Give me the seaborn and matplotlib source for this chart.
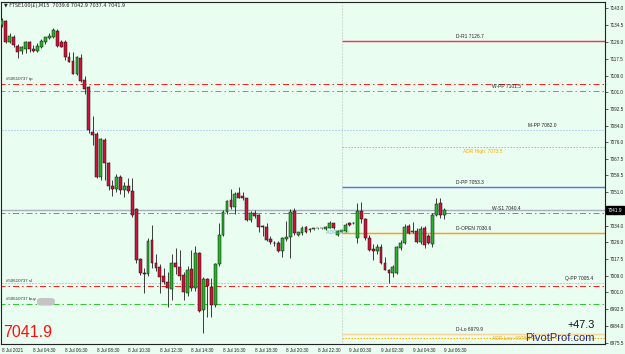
import numpy as np
import pandas as pd
import matplotlib
matplotlib.use("Agg")
import matplotlib.pyplot as plt
import matplotlib.transforms as mtransforms
from matplotlib.patches import FancyBboxPatch
import seaborn as sns

# ---------------- data ----------------
opens = [7134.5, 7136.5, 7126.2, 7128.7, 7124.2, 7121.5, 7122.5, 7125.8, 7122.5, 7121.7,
         7123.7, 7125.8, 7128.0, 7128.3, 7131.7, 7126.2, 7126.2, 7118.7, 7116.7, 7110.0,
         7117.8, 7107.0, 7103.3, 7081.2, 7080.0, 7058.7, 7077.0, 7065.5, 7054.0, 7052.5,
         7058.5, 7052.0, 7054.0, 7051.7, 7042.3, 7017.3, 7010.7, 7010.0, 7027.0, 7015.5,
         7013.7, 7009.0, 7006.2, 7002.3, 7015.6, 7013.3, 7009.5, 7000.3, 7012.3, 7002.8,
         7020.3, 6992.0, 7007.3, 7003.7, 6994.5, 7015.0, 7029.5, 7041.0, 7047.0, 7043.7,
         7050.3, 7049.0, 7047.8, 7037.0, 7040.6, 7039.5, 7033.6, 7033.7, 7027.3, 7025.5,
         7025.7, 7021.7, 7027.3, 7028.3, 7041.7, 7029.5, 7030.3, 7033.7, 7031.8, 7032.4,
         7032.8, 7032.8, 7032.6, 7033.2, 7035.3, 7029.5, 7031.2, 7031.7, 7035.7, 7035.3,
         7027.8, 7041.7, 7037.3, 7027.8, 7022.3, 7021.5, 7023.7, 7015.6, 7012.0, 7010.7,
         7010.7, 7022.8, 7025.3, 7034.0, 7031.0, 7031.7, 7026.2, 7032.8, 7029.0, 7025.0,
         7039.5, 7045.3, 7039.6]
highs = [7138.0, 7137.0, 7130.3, 7129.5, 7125.0, 7124.0, 7126.7, 7126.5, 7124.5, 7125.3,
         7127.7, 7128.7, 7130.7, 7133.0, 7132.3, 7126.8, 7126.8, 7121.0, 7121.0, 7119.0,
         7120.0, 7109.0, 7104.0, 7089.0, 7081.2, 7078.0, 7078.0, 7066.0, 7057.0, 7060.0,
         7059.5, 7056.0, 7058.0, 7057.8, 7042.8, 7018.0, 7013.0, 7027.8, 7034.5, 7020.0,
         7015.0, 7013.0, 7011.0, 7020.0, 7022.8, 7022.0, 7011.0, 7014.0, 7022.0, 7024.0,
         7021.0, 7008.5, 7008.0, 7008.0, 7015.5, 7035.3, 7042.0, 7047.2, 7052.3, 7051.0,
         7053.6, 7051.0, 7048.0, 7041.5, 7042.0, 7040.0, 7034.3, 7035.5, 7029.0, 7026.7,
         7026.5, 7028.5, 7036.7, 7042.5, 7042.8, 7031.2, 7034.0, 7034.0, 7032.8, 7032.6,
         7033.0, 7033.0, 7034.0, 7036.3, 7035.6, 7032.2, 7032.2, 7035.3, 7036.2, 7035.8,
         7045.7, 7046.2, 7038.0, 7029.5, 7025.0, 7025.2, 7025.2, 7018.7, 7012.3, 7014.5,
         7024.0, 7027.0, 7035.0, 7035.0, 7035.8, 7033.0, 7034.0, 7034.0, 7030.0, 7040.5,
         7047.8, 7047.8, 7042.9]
lows = [7133.5, 7125.5, 7125.4, 7123.5, 7117.8, 7120.0, 7120.5, 7120.8, 7120.8, 7120.8,
        7123.0, 7125.2, 7127.5, 7127.8, 7123.5, 7123.3, 7117.2, 7115.8, 7109.8, 7109.5,
        7106.0, 7100.0, 7080.5, 7074.5, 7058.0, 7057.0, 7057.0, 7052.0, 7049.0, 7051.0,
        7050.0, 7048.5, 7050.5, 7038.7, 7015.5, 7009.5, 7000.7, 7009.0, 7013.0, 7011.5,
        7000.5, 7005.0, 6993.3, 6997.0, 7010.0, 7007.0, 6997.0, 6999.0, 7001.5, 7001.5,
        6991.2, 6980.3, 6988.7, 6988.5, 6993.5, 7014.0, 7029.0, 7040.0, 7042.5, 7040.0,
        7048.0, 7047.0, 7036.5, 7036.2, 7038.0, 7031.0, 7029.0, 7026.5, 7025.0, 7024.0,
        7021.0, 7018.3, 7026.5, 7017.8, 7029.5, 7029.0, 7029.5, 7030.5, 7031.2, 7032.2,
        7032.6, 7032.6, 7032.2, 7032.8, 7032.5, 7029.0, 7030.8, 7031.2, 7034.2, 7035.0,
        7025.3, 7035.5, 7027.0, 7021.5, 7017.0, 7020.2, 7015.0, 7012.0, 7005.3, 7008.5,
        7010.0, 7022.0, 7025.0, 7030.0, 7030.5, 7025.5, 7025.0, 7023.0, 7025.0, 7023.7,
        7039.0, 7037.8, 7037.4]
closes = [7137.0, 7126.2, 7129.0, 7124.5, 7121.2, 7123.3, 7126.2, 7122.3, 7121.7, 7124.2,
          7126.5, 7128.3, 7129.0, 7132.0, 7124.0, 7123.7, 7118.7, 7116.2, 7110.0, 7118.7,
          7106.7, 7102.3, 7082.0, 7079.5, 7058.7, 7077.3, 7065.3, 7054.0, 7052.5, 7058.5,
          7052.0, 7054.0, 7051.5, 7039.5, 7017.0, 7010.7, 7010.2, 7026.6, 7015.6, 7012.8,
          7008.7, 7005.8, 7002.8, 7015.6, 7013.3, 7009.0, 7001.2, 7012.0, 7002.8, 7020.7,
          6991.7, 7007.3, 7004.0, 6994.5, 7014.8, 7029.5, 7041.2, 7046.7, 7043.3, 7049.8,
          7047.8, 7048.0, 7037.0, 7040.3, 7039.0, 7033.3, 7033.4, 7027.0, 7025.8, 7025.3,
          7021.5, 7027.8, 7028.3, 7041.2, 7030.3, 7030.8, 7033.2, 7031.2, 7032.4, 7032.4,
          7032.8, 7032.8, 7033.4, 7035.7, 7032.8, 7031.7, 7031.8, 7034.5, 7034.5, 7035.5,
          7041.7, 7037.3, 7027.8, 7022.0, 7021.5, 7023.7, 7015.3, 7012.0, 7010.3, 7013.3,
          7023.3, 7025.7, 7033.7, 7030.7, 7031.0, 7026.2, 7032.3, 7024.5, 7025.3, 7039.5,
          7045.0, 7039.5, 7041.9]

time_labels = ["8 Jul 2021", "8 Jul 04:30", "8 Jul 06:30", "8 Jul 08:30", "8 Jul 10:30",
               "8 Jul 12:30", "8 Jul 14:30", "8 Jul 16:30", "8 Jul 18:30", "8 Jul 20:30",
               "8 Jul 22:30", "9 Jul 00:30", "9 Jul 02:30", "9 Jul 04:30", "9 Jul 06:30"]
price_ticks = [7143.0, 7134.5, 7126.0, 7117.5, 7109.0, 7101.0, 7092.5, 7084.0, 7076.0,
               7067.5, 7059.5, 7051.0, 7034.0, 7026.0, 7017.5, 7009.0, 7001.0, 6992.5,
               6984.0, 6975.5]

# daily levels (drawn from the day start)
day_names = ["D-R1", "ADR High:", "D-PP", "D-OPEN", "D-Lo", "ADR Low:"]
day_values = [7126.7, 7073.5, 7053.3, 7030.6, 6979.9, 6978.0]
# longer term levels (full width)
wide_names = ["W-PP", "M-PP", "W-S1", "Q-PP"]
wide_values = [7101.5, 7082.0, 7040.4, 7005.4]
# order lines
order_names = ["#50610737 tp", "#50610737 sl", "#50610737 buy"]
order_values = [7105.0, 7004.2, 6995.2]
bid = 7041.9
title_text = "\u25bc FTSE100(\u00a3),M15  7039.6 7042.9 7037.4 7041.9"
big_price = "7041.9"
pips_text = "+47.3"
brand = "PivotProf.com"

df = pd.DataFrame({"o": opens, "h": highs, "l": lows, "c": closes})
df["i"] = np.arange(len(df))
df["up"] = df["c"] >= df["o"]

# ---------------- style ----------------
BG = "#e9fdf0"
sns.set_theme(style="white", rc={"axes.facecolor": BG, "figure.facecolor": BG})
plt.rcParams["font.family"] = ["Liberation Sans", "DejaVu Sans"]

fig = plt.figure(figsize=(6.25, 3.54), dpi=100)
L, R, B, T = 1.5 / 625, 605 / 625, 10 / 354, 352 / 354
ax = fig.add_axes([L, B, R - L, T - B])
ax.set_facecolor(BG)

XMAX = 152.7
ax.set_xlim(-0.1, XMAX)
ax.set_ylim(6975.0, 7146.0)

# ---------------- level lines ----------------
dashdot = (0, (6, 3, 1.5, 3))
dotted = (0, (1.0, 2.0))
day_start = 86
LW = 0.72
LW_SOLID = 1.05


def hline(v, x0, x1, lw=LW, **kw):
    ax.plot([x0, x1], [v, v], lw=lw, snap=True, solid_capstyle="butt",
            dash_capstyle="butt", zorder=2, **kw)


ax.plot([day_start, day_start], [6970, 7150], color="#b4c0b8", lw=LW, ls=dotted,
        snap=True, zorder=1)

day_styles = {
    "D-R1": dict(color="#ec3a5e", ls="-", lw=LW_SOLID),
    "ADR High:": dict(color="#ffb000", ls=(0, (1.5, 1.5))),
    "D-PP": dict(color="#5c74e0", ls="-", lw=LW_SOLID),
    "D-OPEN": dict(color="#ffa010", ls="-", lw=LW_SOLID),
    "D-Lo": dict(color="#f8d49c", ls="-", lw=LW_SOLID),
    "ADR Low:": dict(color="#ffb000", ls=(0, (1.5, 1.5))),
}
for n, v in zip(day_names, day_values):
    hline(v, day_start, XMAX, **day_styles[n])

wide_styles = {
    "W-PP": dict(color="#6f90f0", ls=dashdot),
    "M-PP": dict(color="#8aaae6", ls=dotted),
    "W-S1": dict(color="#3cbc3c", ls=dashdot),
    "Q-PP": dict(color="#86a8ee", ls=dotted),
}
for n, v in zip(wide_names, wide_values):
    hline(v, -1, XMAX, **wide_styles[n])

order_colors = ["#ff2020", "#ff2020", "#30c830"]
for n, v, col in zip(order_names, order_values, order_colors):
    hline(v, -1, XMAX, color=col, ls=dashdot)
    ax.text(1.0, v + 1.3, n, fontsize=3.2, color="#333333", ha="left", va="bottom", zorder=6)

hline(bid, -1, XMAX, color="#a8b2bc", ls="-", lw=LW_SOLID)

# blurred privacy box after the buy label
ax.add_patch(FancyBboxPatch((9.0, 6994.3), 4.3, 3.6, boxstyle="round,pad=0.1,rounding_size=1.2",
                            fc="#c4c4c4", ec="none", zorder=6))

# level labels
lab_pos = {"D-R1": (114.9, 1.0, "bottom"), "ADR High:": (116.7, -0.8, "top"),
           "D-PP": (114.9, 1.0, "bottom"), "D-OPEN": (114.9, 1.0, "bottom"),
           "D-Lo": (114.9, 1.2, "bottom"), "ADR Low:": (124.0, -0.4, "center"),
           "W-PP": (124.0, 0.9, "bottom"), "M-PP": (133.2, 1.0, "bottom"),
           "W-S1": (124.0, 0.9, "bottom"), "Q-PP": (142.5, 1.0, "bottom")}
for n, v in list(zip(day_names, day_values)) + list(zip(wide_names, wide_values)):
    x, dy, va = lab_pos[n]
    col = "#ffa800" if n.startswith("ADR") else "#222222"
    ax.text(x, v + dy, f"{n} {v:.1f}", fontsize=3.5, color=col, ha="left", va=va, zorder=6)

ax.text(82.0, 7032.0, "ADR Start", fontsize=3.8, color="#6cbcbc", ha="left", va="top", zorder=6)

# ---------------- candles ----------------
ax.vlines(df["i"], df["l"], df["h"], color="#1e1e1e", lw=0.6, zorder=3)
body_lo = np.minimum(df["o"], df["c"])
body_h = np.maximum(np.abs(df["c"] - df["o"]), 0.4)
colors = np.where(df["up"], "#27b327", "#cf1238")
ax.bar(df["i"], body_h, bottom=body_lo, width=0.72, color=colors,
       edgecolor="#111111", linewidth=0.35, zorder=4)

# ---------------- axes ----------------
for s in ax.spines.values():
    s.set_color("#222222")
    s.set_linewidth(0.8)
    s.set_visible(True)

ax.yaxis.tick_right()
ax.set_yticks(price_ticks)
ax.set_yticklabels([f"{v:.1f}" for v in price_ticks])
ax.set_xticks(np.arange(0, 8 * len(time_labels), 8))
ax.set_xticklabels(time_labels, ha="left")
ax.tick_params(axis="both", direction="out", length=2, width=0.5, colors="#222222",
               labelsize=3.3, pad=1.2)
ax.tick_params(axis="x", pad=1.0)
ax.grid(False)

# bid box on the price scale
trans = mtransforms.blended_transform_factory(ax.transAxes, ax.transData)
ax.text(1.004, bid, f"{bid:.1f}", transform=trans, fontsize=3.4, color="white",
        ha="left", va="center", zorder=10, clip_on=False,
        bbox=dict(boxstyle="square,pad=0.35", fc="black", ec="black"))

# title and overlay texts
ax.text(0.004, 0.996, title_text, transform=ax.transAxes, fontsize=3.5, color="#222222",
        ha="left", va="top", family=["DejaVu Sans"], zorder=10)
ax.text(0.002, 0.012, big_price, transform=ax.transAxes, fontsize=11.5, color="#ff1010",
        ha="left", va="bottom", zorder=10)
ax.text(0.983, 0.040, pips_text, transform=ax.transAxes, fontsize=7.8, color="#111111",
        ha="right", va="bottom", zorder=10)
ax.text(0.983, 0.002, brand, transform=ax.transAxes, fontsize=8, color="#1c2aa0",
        ha="right", va="bottom", zorder=10)

fig.savefig("out.png", dpi=100, facecolor=BG)
